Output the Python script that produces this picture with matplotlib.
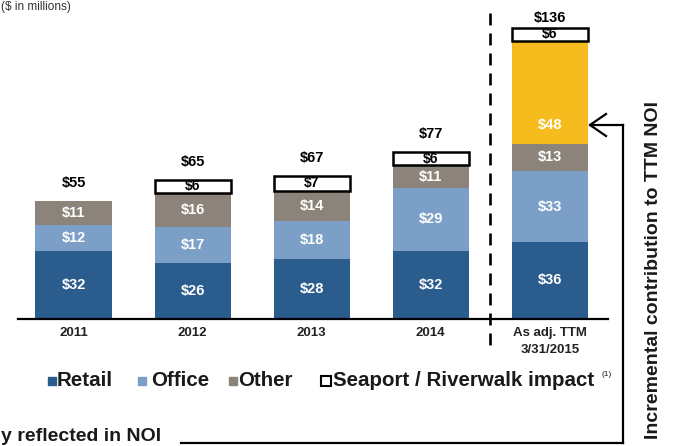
import matplotlib
matplotlib.use("Agg")
import matplotlib.pyplot as plt
from matplotlib.patches import Rectangle

# ---- data ----
categories = ['2011', '2012', '2013', '2014', 'As adj. TTM\n3/31/2015']
retail = [32, 26, 28, 32, 36]
office = [12, 17, 18, 29, 33]
other = [11, 16, 14, 11, 13]
incremental = [0, 0, 0, 0, 48]
seaport_impact = [0, 6, 7, 6, 6]
totals = [55, 65, 67, 77, 136]

legend_labels = ['Retail', 'Office', 'Other', 'Seaport / Riverwalk impact']

# ---- style ----
C_RETAIL = '#2B5C8E'
C_OFFICE = '#7B9FC6'
C_OTHER = '#8C837A'
C_YELLOW = '#F6BB1C'
FONT = 'Liberation Sans'
plt.rcParams['font.family'] = [FONT, 'DejaVu Sans']

W, H = 675, 446
fig = plt.figure(figsize=(W / 100, H / 100), dpi=100)
ax = fig.add_axes([0, 0, 1, 1])
ax.axis('off')

X0, DX = 73.5, 119.1      # pixel centre of first bar, spacing
Y0, DY = 319.0, 2.14      # baseline pixel, pixels per unit

def X(px):
    return (px - X0) / DX

def Y(py):
    return (Y0 - py) / DY

ax.set_xlim(X(0), X(W))
ax.set_ylim(Y(H), Y(0))

pos = list(range(len(categories)))
bw = 76 / DX

bottom = [0] * len(pos)
for vals, col in [(retail, C_RETAIL), (office, C_OFFICE), (other, C_OTHER), (incremental, C_YELLOW)]:
    ax.bar(pos, vals, bw, bottom=bottom, color=col, edgecolor='none', zorder=2)
    for i, v in enumerate(vals):
        if v > 0:
            if col == C_YELLOW:
                ty = bottom[i] + 8.5
            else:
                ty = bottom[i] + v / 2
            ax.text(i, ty, f'${v}', ha='center', va='center', color='white',
                    fontsize=10.5, fontweight='bold', zorder=4)
    bottom = [b + v for b, v in zip(bottom, vals)]

# seaport impact boxes
for i, v in enumerate(seaport_impact):
    if v > 0:
        ax.bar(i, v, bw, bottom=bottom[i], color='white', edgecolor='black',
               linewidth=1.8, zorder=3)
        ax.text(i, bottom[i] + v / 2, f'${v}', ha='center', va='center',
                color='black', fontsize=10, fontweight='bold', zorder=4)
    bottom[i] += v

# totals
for i, t in enumerate(totals):
    gap = 3 if i == len(totals) - 1 else 11
    ax.text(i, bottom[i] + gap / DY, f'${t}', ha='center', va='bottom',
            color='black', fontsize=10.5, fontweight='bold', zorder=4)

# baseline
ax.plot([X(18), X(608)], [0, 0], color='black', lw=1.6, zorder=5)

# category labels
for i, c in enumerate(categories):
    ax.text(i, Y(327), c, ha='center', va='top', fontsize=9.5,
            fontweight='bold', color='#222222', linespacing=1.6)

# dashed separator
lw = 1.9
ax.plot([X(490), X(490)], [Y(13), Y(353)], color='black', lw=lw,
        linestyle=(0, (8.6 / lw, 5.8 / lw)), zorder=5)

# legend
ly = 381
sq = [(48, C_RETAIL), (138, C_OFFICE), (229, C_OTHER)]
for (x, col) in sq:
    ax.add_patch(Rectangle((X(x), Y(385)), 8 / DX, 8 / DY, color=col,
                           transform=ax.transData, zorder=5))
ax.add_patch(Rectangle((X(321), Y(386)), 10 / DX, 10 / DY, facecolor='white',
                       edgecolor='black', lw=1.5, zorder=5))
starts = [57, 151, 238, 333]
for s, lab in zip(starts, legend_labels):
    ax.text(X(s), Y(ly), lab, ha='left', va='center', fontsize=14.8,
            fontweight='bold', color='#1a1a1a')
ax.text(X(601), Y(374), '(1)', ha='left', va='center', fontsize=6,
        color='#1a1a1a')

# right-hand annotation
ax.plot([X(623), X(623)], [Y(125), Y(443)], color='black', lw=1.6)
ax.plot([X(590), X(623)], [Y(125), Y(125)], color='black', lw=1.6)
ax.plot([X(606), X(590), X(606)], [Y(114), Y(125), Y(136)], color='black', lw=1.6)
ax.plot([X(181), X(623)], [Y(443), Y(443)], color='black', lw=1.6)
ax.text(X(654), Y(270), 'Incremental contribution to TTM NOI', rotation=90,
        ha='center', va='center', fontsize=14, fontweight='bold', color='#1a1a1a')

# slide texts at the edges
ax.text(X(1), Y(445), 'y reflected in NOI', ha='left', va='bottom',
        fontsize=14, fontweight='bold', color='#1a1a1a')
ax.text(X(1), Y(1), '($ in millions)', ha='left', va='top',
        fontsize=8.5, color='#333333')

fig.savefig('out.png', dpi=100)
